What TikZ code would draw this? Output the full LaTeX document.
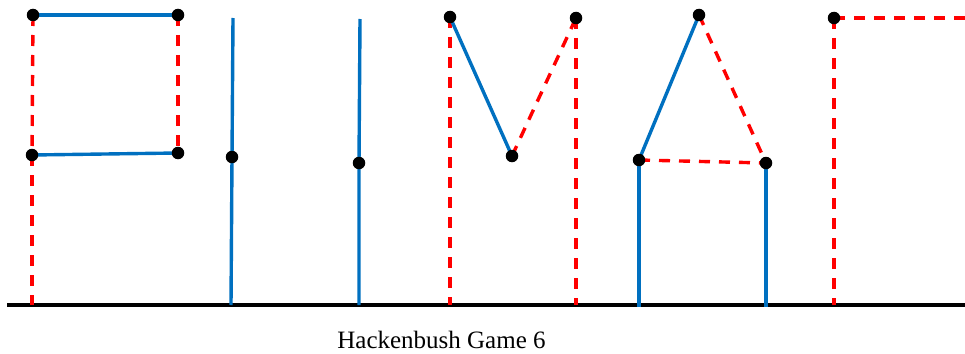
\documentclass[tikz,border=0pt]{standalone}
\usepackage{fontspec}
\setmainfont{Liberation Serif}
\usetikzlibrary{backgrounds}
\definecolor{bluec}{RGB}{0,112,192}
\definecolor{redc}{RGB}{255,0,0}
\begin{document}
\begin{tikzpicture}[x=1pt,y=-1pt,
  dot/.style={circle,fill=black,inner sep=0pt,minimum size=12.5pt},
  blueedge/.style={draw=bluec,line width=3.4pt},
  rededge/.style={draw=redc,line width=3.4pt,dash pattern=on 11pt off 9pt},
  groundline/.style={draw=black,line width=3.4pt}]
\useasboundingbox (0,0) rectangle (965,353);
% ground coordinates
\coordinate (gl) at (7,305);
\coordinate (gr) at (965,305);
\coordinate (g1) at (32,305);
\coordinate (g2) at (231,305);
\coordinate (g3) at (359,305);
\coordinate (g4) at (450,305);
\coordinate (g5) at (576,305);
\coordinate (g6) at (639,307);
\coordinate (g7) at (766,307);
\coordinate (g8) at (834,305);
% free ends
\coordinate (i1t) at (233,18);
\coordinate (i2t) at (360,19);
\coordinate (fr) at (965,18);
% P
\node[dot] (p1) at (33,15) {};
\node[dot] (p2) at (178,15) {};
\node[dot] (p3) at (32,155) {};
\node[dot] (p4) at (178,153) {};
% I
\node[dot] (i1) at (232,157) {};
\node[dot] (i2) at (359,163) {};
% M
\node[dot] (m1) at (450,17) {};
\node[dot] (m2) at (512,156) {};
\node[dot] (m3) at (576,18) {};
% A
\node[dot] (a1) at (699,15) {};
\node[dot] (a2) at (639,160) {};
\node[dot] (a3) at (766,163) {};
% Gamma
\node[dot] (f1) at (834,18) {};
\begin{pgfonlayer}{background}
\draw[groundline] (gl) -- (gr);
% P
\draw[blueedge] (p1.center) -- (p2.center);
\draw[blueedge] (p3.center) -- (p4.center);
\draw[rededge] (p1.center) -- (p3.center);
\draw[rededge] (p3.center) -- (g1);
\draw[rededge] (p2.center) -- (p4.center);
% I
\draw[blueedge] (i1t) -- (i1.center) -- (g2);
\draw[blueedge] (i2t) -- (i2.center) -- (g3);
% M
\draw[rededge] (m1.center) -- (g4);
\draw[blueedge] (m1.center) -- (m2.center);
\draw[rededge] (m2.center) -- (m3.center);
\draw[rededge] (m3.center) -- (g5);
% A
\draw[blueedge] (a2.center) -- (a1.center);
\draw[rededge] (a1.center) -- (a3.center);
\draw[rededge] (a2.center) -- (a3.center);
\draw[blueedge] (a2.center) -- (g6);
\draw[blueedge] (a3.center) -- (g7);
% Gamma
\draw[rededge] (f1.center) -- (g8);
\draw[rededge] (f1.center) -- (fr);
\end{pgfonlayer}
\node[font=\fontsize{25}{30}\selectfont, anchor=base, inner sep=0pt] (cap) at (441.5,348) {Hackenbush Game 6};
\end{tikzpicture}
\end{document}
